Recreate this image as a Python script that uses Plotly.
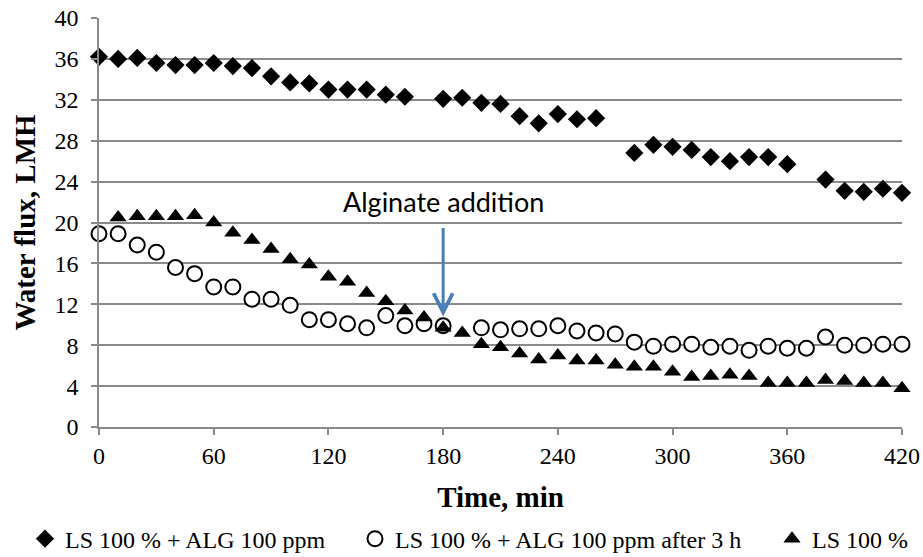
import plotly.graph_objects as go

# ---- data ----
time_diamond = [0, 10, 20, 30, 40, 50, 60, 70, 80, 90, 100, 110, 120, 130, 140, 150, 160,
                180, 190, 200, 210, 220, 230, 240, 250, 260,
                280, 290, 300, 310, 320, 330, 340, 350, 360,
                380, 390, 400, 410, 420]
flux_diamond = [36.2, 36.0, 36.1, 35.6, 35.4, 35.4, 35.6, 35.3, 35.1, 34.3, 33.7, 33.6, 33.0, 33.0, 33.0, 32.5, 32.3,
                32.1, 32.2, 31.7, 31.6, 30.4, 29.7, 30.6, 30.1, 30.2,
                26.8, 27.6, 27.4, 27.1, 26.4, 26.0, 26.4, 26.4, 25.7,
                24.2, 23.1, 23.0, 23.3, 22.9]

time_circle = [0, 10, 20, 30, 40, 50, 60, 70, 80, 90, 100, 110, 120, 130, 140, 150, 160, 170, 180,
               200, 210, 220, 230, 240, 250, 260, 270, 280, 290, 300, 310, 320, 330, 340, 350, 360,
               370, 380, 390, 400, 410, 420]
flux_circle = [18.9, 18.9, 17.8, 17.1, 15.6, 15.0, 13.7, 13.7, 12.5, 12.5, 11.9, 10.5, 10.5, 10.1, 9.7, 10.9, 9.9, 10.1, 9.9,
               9.7, 9.5, 9.6, 9.6, 9.9, 9.4, 9.2, 9.1, 8.3, 7.9, 8.1, 8.1, 7.8, 7.9, 7.5, 7.9, 7.7,
               7.7, 8.8, 8.0, 8.0, 8.1, 8.1]

time_triangle = [10, 20, 30, 40, 50, 60, 70, 80, 90, 100, 110, 120, 130, 140, 150, 160, 170, 180, 190,
                 200, 210, 220, 230, 240, 250, 260, 270, 280, 290, 300, 310, 320, 330, 340, 350, 360,
                 370, 380, 390, 400, 410, 420]
flux_triangle = [20.5, 20.6, 20.6, 20.6, 20.7, 20.0, 19.0, 18.3, 17.4, 16.4, 15.9, 14.7, 14.2, 13.1, 12.3, 11.4, 10.7, 9.7, 9.2,
                 8.1, 7.8, 7.2, 6.6, 7.0, 6.5, 6.5, 6.1, 5.9, 5.9, 5.4, 4.9, 5.0, 5.1, 5.0, 4.3, 4.3,
                 4.3, 4.6, 4.5, 4.3, 4.3, 3.8]

series_names = ["LS 100 % + ALG 100 ppm", "LS 100 % + ALG 100 ppm after 3 h", "LS 100 %"]

x_ticks = [0, 60, 120, 180, 240, 300, 360, 420]
y_ticks = [0, 4, 8, 12, 16, 20, 24, 28, 32, 36, 40]

annotation_text = "Alginate addition"
annotation_time = 180
annotation_text_y = 22.1
arrow_tail_y = 19.6
arrow_tip_y = 10.8

# ---- figure ----
SERIF = "Liberation Serif, Times New Roman, serif"
GRID = "#8a8a8a"

fig = go.Figure()
fig.add_trace(go.Scatter(
    x=time_diamond, y=flux_diamond, mode="markers", name=series_names[0],
    marker=dict(symbol="diamond", size=14, color="black"),
    cliponaxis=False, legend="legend"))
fig.add_trace(go.Scatter(
    x=time_circle, y=flux_circle, mode="markers", name=series_names[1],
    marker=dict(symbol="circle", size=15, color="white", line=dict(color="black", width=2)),
    cliponaxis=False, legend="legend2"))
fig.add_trace(go.Scatter(
    x=time_triangle, y=flux_triangle, mode="markers", name=series_names[2],
    marker=dict(symbol="triangle-up", size=15, color="black"),
    cliponaxis=False, legend="legend3"))

legend_common = dict(orientation="h", yanchor="middle", xanchor="left",
                     bgcolor="rgba(0,0,0,0)", font=dict(family=SERIF, size=24, color="black"),
                     itemwidth=30)

fig.update_layout(
    width=923, height=557,
    margin=dict(l=99, r=21, t=18, b=130, autoexpand=False),
    paper_bgcolor="white", plot_bgcolor="white",
    showlegend=True,
    legend=dict(x=(25 - 99) / 803, y=-0.274, **legend_common),
    legend2=dict(x=(355 - 99) / 803, y=-0.274, **legend_common),
    legend3=dict(x=(772 - 99) / 803, y=-0.274, **legend_common),
    xaxis=dict(
        range=[0, 420], tickvals=x_ticks, ticktext=[str(v) for v in x_ticks],
        showgrid=False, zeroline=False,
        showline=True, linecolor=GRID, linewidth=1.5,
        ticks="outside", ticklen=6, tickcolor=GRID, tickwidth=1.5,
        ticklabelstandoff=0,
        tickfont=dict(family=SERIF, size=24, color="black"),
        title=dict(text="Time, min", standoff=19,
                   font=dict(family=SERIF, size=29, color="black", weight="bold")),
    ),
    yaxis=dict(
        range=[0, 40], tickvals=y_ticks, ticktext=[str(v) for v in y_ticks],
        showgrid=True, gridcolor=GRID, gridwidth=1.5, zeroline=False,
        showline=True, linecolor=GRID, linewidth=1.5,
        ticks="outside", ticklen=6, tickcolor=GRID, tickwidth=1.5,
        ticklabelstandoff=8,
        tickfont=dict(family=SERIF, size=24, color="black"),
        title=dict(text="Water flux, LMH", standoff=10,
                   font=dict(family=SERIF, size=29, color="black", weight="bold")),
    ),
)

fig.add_annotation(
    x=annotation_time, y=annotation_text_y, xref="x", yref="y",
    text=annotation_text, showarrow=False,
    font=dict(family="Lato, Carlito, Calibri, sans-serif", size=27, color="black"),
    xanchor="center", yanchor="middle")

fig.add_annotation(
    x=annotation_time, y=arrow_tip_y, xref="x", yref="y",
    ax=annotation_time, ay=arrow_tail_y, axref="x", ayref="y",
    text="", showarrow=True, arrowhead=5, arrowsize=1.25, arrowwidth=3,
    arrowcolor="#4a7ebb", standoff=0, startstandoff=0)

fig.write_html("out.html")
